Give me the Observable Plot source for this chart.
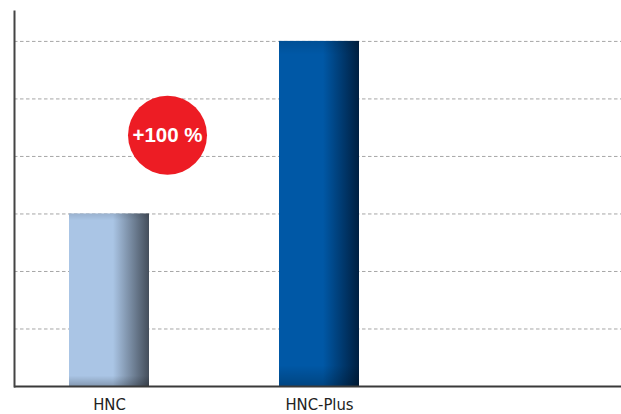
<!DOCTYPE html>
<html>
<head>
<meta charset="utf-8">
<script src="https://cdn.jsdelivr.net/npm/d3@7"></script>
<script src="https://cdn.jsdelivr.net/npm/@observablehq/plot@0.6"></script>
<style>
  html, body { margin: 0; padding: 0; background: #fff; }
  #chart svg { display: block; }
</style>
</head>
<body>
<div id="chart"></div>
<script>
const categories = ["HNC", "HNC-Plus"];
const values = [3, 6];
const gridTicks = [1, 2, 3, 4, 5, 6];
const badgeText = "+100 %";
const badgeValue = 4.37;
const barLight = ["#aac5e5", "#0058a6"];
const barDark = ["#444e5b", "#001f40"];

const data = categories.map((c, i) => ({cat: c, value: values[i]}));
const gradIds = categories.map((c, i) => `bargrad${i}`);

function defs() {
  const d = d3.create("svg:defs");
  categories.forEach((c, i) => {
    const g = d.append("linearGradient").attr("id", gradIds[i])
      .attr("x1", 0).attr("x2", 1).attr("y1", 0).attr("y2", 0);
    g.append("stop").attr("offset", "0").attr("stop-color", barLight[i]);
    g.append("stop").attr("offset", "0.55").attr("stop-color", barLight[i]);
    g.append("stop").attr("offset", "1").attr("stop-color", barDark[i]);
  });
  const s = d.append("linearGradient").attr("id", "vshade")
    .attr("x1", 0).attr("x2", 0).attr("y1", 0).attr("y2", 1);
  s.append("stop").attr("offset", "0").attr("stop-color", "#000").attr("stop-opacity", 0.1);
  s.append("stop").attr("offset", "0.04").attr("stop-color", "#000").attr("stop-opacity", 0);
  s.append("stop").attr("offset", "0.94").attr("stop-color", "#000").attr("stop-opacity", 0);
  s.append("stop").attr("offset", "1").attr("stop-color", "#000").attr("stop-opacity", 0.22);
  return d.node();
}

const chart = Plot.plot({
  width: 621,
  height: 414,
  marginTop: 11,
  marginBottom: 28,
  marginLeft: 14,
  marginRight: 0,
  style: {fontFamily: "'DejaVu Sans Condensed', 'DejaVu Sans', sans-serif", fontSize: "16px", color: "#222", background: "#fff"},
  x: {domain: categories, range: [69, 359], paddingInner: 130 / 210, paddingOuter: 0, align: 0, label: null},
  y: {domain: [0, 6.52], axis: null},
  color: {domain: categories, range: gradIds.map(id => `url(#${id})`)},
  marks: [
    defs,
    Plot.ruleY(gridTicks, {stroke: "#a6a6a6", strokeWidth: 1, strokeDasharray: "3.5,2.5"}),
    Plot.barY(data, {x: "cat", y: "value", fill: "cat", inset: 0}),
    Plot.barY(data, {x: "cat", y: "value", fill: "url(#vshade)", inset: 0}),
    Plot.ruleY([0], {stroke: "#3a3a3a", strokeWidth: 2}),
    Plot.frame({anchor: "left", stroke: "#444", strokeWidth: 2}),
    Plot.axisX({tickSize: 0, tickPadding: 12, label: null, fontSize: 16.5, fill: "#222"}),
    Plot.dot([badgeText], {x: () => categories[0], y: () => badgeValue, r: 39.5, fill: "#ed1c24", stroke: null, dx: 58}),
    Plot.text([badgeText], {x: () => categories[0], y: () => badgeValue, text: d => d, dx: 58, fill: "#fff", fontSize: 20.5, fontWeight: "bold", fontFamily: "'Liberation Sans', sans-serif"})
  ]
});
document.getElementById("chart").append(chart);
</script>
</body>
</html>
